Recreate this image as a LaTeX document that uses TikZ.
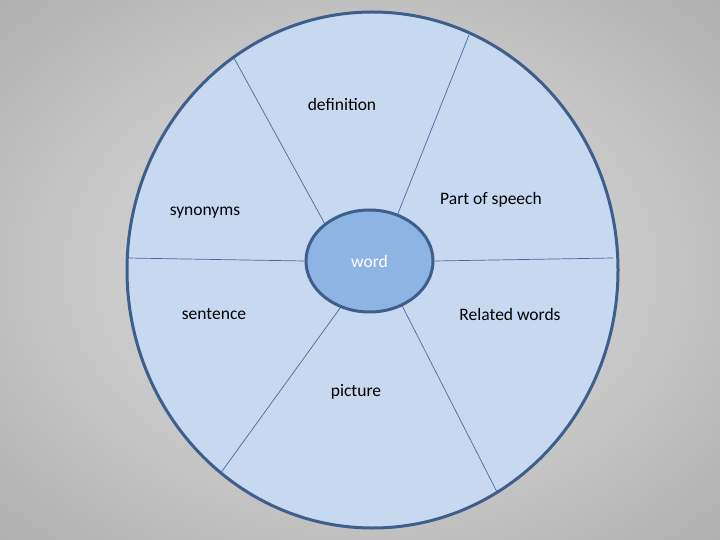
\documentclass[tikz,border=0pt]{standalone}
\usepackage{fontspec}
\setmainfont{Carlito}
\usetikzlibrary{shapes.geometric}
\definecolor{bgin}{RGB}{228,228,228}
\definecolor{bgout}{RGB}{146,146,146}
\definecolor{rimblue}{RGB}{62,94,140}
\definecolor{paleblue}{RGB}{198,217,241}
\definecolor{midblue}{RGB}{142,180,227}
\definecolor{spokeblue}{RGB}{70,105,155}
\tikzset{
  lbl/.style={font=\fontsize{17.5}{20}\selectfont, text=black, inner sep=0pt},
  spoke/.style={draw=spokeblue, line width=0.7pt},
}
\begin{document}
\begin{tikzpicture}[x=1pt,y=-1pt]
\useasboundingbox (0,0) rectangle (720,540);
\begin{scope}
\clip (0,0) rectangle (720,540);
\shade[inner color=bgin, outer color=bgout] (-440,-330) rectangle (1160,870);
\end{scope}
\node[ellipse, draw=rimblue, fill=paleblue, line width=3pt, inner sep=0pt,
      minimum width=491pt, minimum height=516pt] (outer) at (372.5,270) {};
\coordinate (o1) at (234,58);
\coordinate (o2) at (469,35);
\coordinate (o3) at (127,258);
\coordinate (o4) at (613,258);
\coordinate (o5) at (220,474);
\coordinate (o6) at (497,492);
\node[ellipse, draw=rimblue, fill=midblue, line width=3pt, inner sep=0pt,
      minimum width=127pt, minimum height=102pt, text=white,
      font=\fontsize{17.5}{20}\selectfont] (word) at (369.5,261) {word};
\draw[spoke] (word.140) -- (o1);
\draw[spoke] (word.59) -- (o2);
\draw[spoke] (word.180) -- (o3);
\draw[spoke] (word.0) -- (o4);
\draw[spoke] (word.238) -- (o5);
\draw[spoke] (word.306) -- (o6);
\node[lbl] (def) at (342,104) {definition};
\node[lbl] (pos) at (491,200) {Part of speech};
\node[lbl] (syn) at (205,213) {synonyms};
\node[lbl] (sen) at (214,314) {sentence};
\node[lbl] (rel) at (510,314) {Related words};
\node[lbl] (pic) at (356,392) {picture};
\end{tikzpicture}
\end{document}
